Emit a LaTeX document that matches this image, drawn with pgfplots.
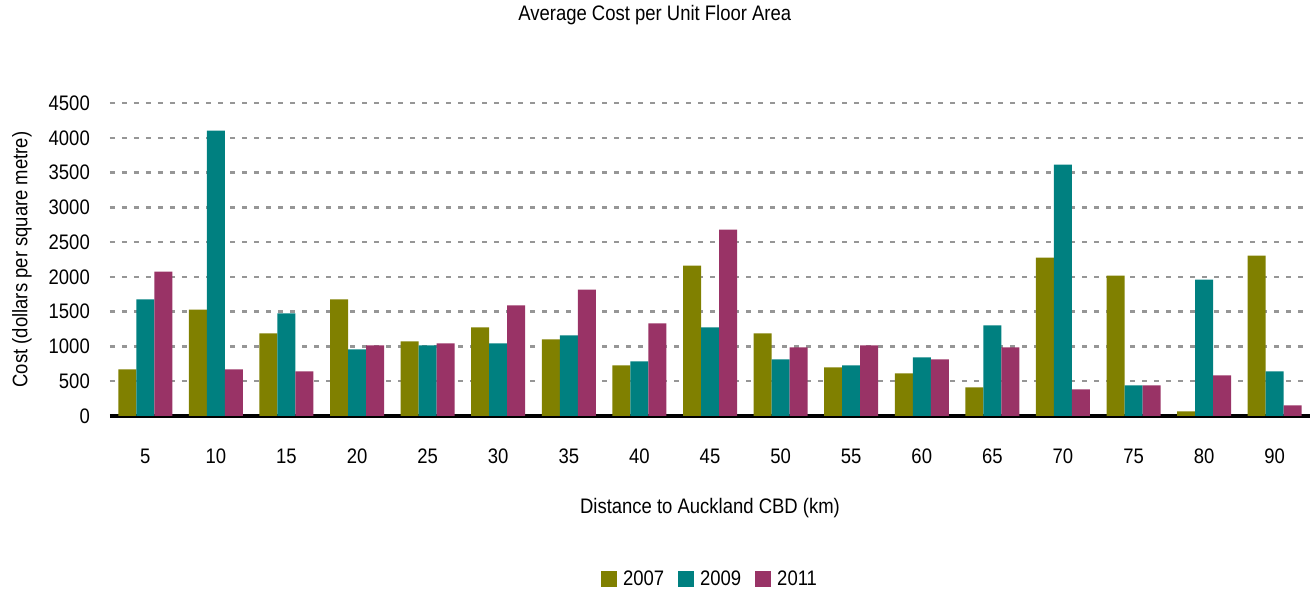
\documentclass[border=0pt]{standalone}
\usepackage{fontspec}
\setmainfont{Liberation Sans}[FakeStretch=0.88]
\usepackage{pgfplots}
\usepackage{pgfplotstable}
\pgfplotsset{compat=1.18}
\definecolor{c2007}{HTML}{808000}
\definecolor{c2009}{HTML}{008080}
\definecolor{c2011}{HTML}{993366}
\definecolor{gridgray}{HTML}{969696}

\pgfplotstableread{
x  a    b    c
0  670  1675 2077
1  1531 4101 670
2  1187 1474 641
3  1675 957  1014
4  1072 1014 1043
5  1273 1043 1589
6  1100 1158 1818
7  727  785  1330
8  2163 1273 2680
9  1187 813  986
10 699  727  1014
11 612  842  813
12 412  1302 986
13 2278 3613 383
14 2019 440  440
15 67   1962 584
16 2306 641  153
}\costdata

\begin{document}
\fontsize{21bp}{25bp}\selectfont
\begin{tikzpicture}
\begin{axis}[
    scale only axis,
    width=1200bp, height=313bp,
    xmin=-0.5, xmax=16.5,
    ymin=0, ymax=4500,
    ytick={0,500,...,4500},
    xtick=data,
    xticklabels={5,10,15,20,25,30,35,40,45,50,55,60,65,70,75,80,90},
    major tick length=0pt,
    axis x line*=bottom,
    axis y line*=left,
    x axis line style={line width=4bp, -},
    y axis line style={draw=none},
    ymajorgrids,
    grid style={gridgray, line width=2.5bp, dash pattern=on 5bp off 7bp},
    /pgf/number format/assume math mode=true,
    /pgf/number format/1000 sep={},
    yticklabel style={anchor=east, inner sep=0pt, xshift=-20bp},
    xticklabel style={anchor=center, yshift=-40bp},
    title={Average Cost per Unit Floor Area},
    title style={at={(axis description cs:0.454,1.262)}, anchor=center},
    xlabel={Distance to Auckland CBD (km)},
    xlabel style={at={(axis description cs:0.5,-0.294)}, anchor=center},
    ylabel={Cost (dollars per square metre)},
    ylabel style={at={(axis description cs:-0.0733,0.5)}, anchor=center, rotate=0},
    ybar=0pt, bar width=18bp,
    legend columns=3,
    legend style={at={(axis description cs:0.5,-0.524)}, anchor=center, draw=none,
        /tikz/every odd column/.append style={column sep=4bp},
        /tikz/every even column/.append style={column sep=12bp}},
    legend image code/.code={\fill[#1] (0bp,-7bp) rectangle (16bp,9bp);},
]
\addplot[fill=c2007, draw=none] table[x=x, y=a] {\costdata};
\addplot[fill=c2009, draw=none] table[x=x, y=b] {\costdata};
\addplot[fill=c2011, draw=none] table[x=x, y=c] {\costdata};
\legend{2007, 2009, 2011}
\coordinate (sw) at (rel axis cs:0,0);
\coordinate (ne) at (rel axis cs:1,1);
\end{axis}
\pgfresetboundingbox
\path ([xshift=-110bp, yshift=-178bp]sw) rectangle ([yshift=103bp]ne);
\end{tikzpicture}
\end{document}
